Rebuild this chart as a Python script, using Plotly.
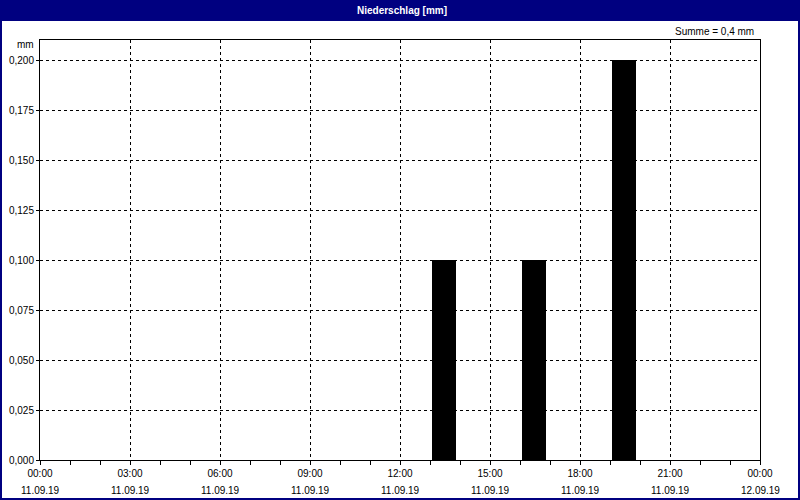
import plotly.graph_objects as go

# ---- data ----
bar_times = ["2019-09-11 13:28", "2019-09-11 16:28", "2019-09-11 19:28"]
bar_values = [0.1, 0.1, 0.2]
x_tick_vals = ["2019-09-11 00:00", "2019-09-11 03:00", "2019-09-11 06:00", "2019-09-11 09:00",
               "2019-09-11 12:00", "2019-09-11 15:00", "2019-09-11 18:00", "2019-09-11 21:00",
               "2019-09-12 00:00"]
x_tick_times = ["00:00", "03:00", "06:00", "09:00", "12:00", "15:00", "18:00", "21:00", "00:00"]
x_tick_dates = ["11.09.19", "11.09.19", "11.09.19", "11.09.19", "11.09.19", "11.09.19",
                "11.09.19", "11.09.19", "12.09.19"]
y_tick_vals = [0.0, 0.025, 0.05, 0.075, 0.1, 0.125, 0.15, 0.175, 0.2]
title_text = "Niederschlag [mm]"
sum_text = "Summe = 0,4 mm"
unit_text = "mm"

W, H = 800, 500
L, R, T, B = 40, 40, 40, 40
PW, PH = W - L - R, H - T - B


def px(xp):
    return (xp - L) / PW


def py(yp):
    return (H - B - yp) / PH


NAVY = "#000080"
FONT = "Liberation Sans"
FS = 10

fig = go.Figure()
fig.add_trace(go.Bar(
    x=bar_times, y=bar_values,
    width=0.8 * 3600 * 1000,
    marker=dict(color="#000000", line=dict(width=0)),
))

fig.update_layout(
    width=W, height=H,
    margin=dict(l=L, r=R, t=T, b=B, pad=0),
    paper_bgcolor="#ffffff", plot_bgcolor="#ffffff",
    separators=",.",
    showlegend=False,
    font=dict(family=FONT, size=FS, color="#000000"),
)

fig.update_xaxes(
    type="date", automargin=False,
    range=["2019-09-11 00:00", "2019-09-12 00:00"],
    tickvals=x_tick_vals, ticktext=x_tick_times,
    ticks="outside", ticklen=4, tickcolor="#000000", tickwidth=1,
    showgrid=True, gridcolor="#000000", gridwidth=1, griddash="3px,3px",
    showline=True, linecolor="#000000", linewidth=1, mirror=True,
    zeroline=False,
    minor=dict(dtick=3600000, ticks="outside", ticklen=4, tickcolor="#000000", showgrid=False),
    tickfont=dict(family=FONT, size=FS, color="#000000"),
)
fig.update_yaxes(
    automargin=False,
    range=[0, 0.21],
    tickvals=y_tick_vals, tickformat=".3f",
    ticks="outside", ticklen=3, tickcolor="#000000",
    showgrid=True, gridcolor="#000000", gridwidth=1, griddash="3px,3px",
    showline=True, linecolor="#000000", linewidth=1, mirror=True,
    zeroline=False,
    tickfont=dict(family=FONT, size=FS, color="#000000"),
)

shapes = [
    dict(type="rect", xref="paper", yref="paper",
         x0=px(0), x1=px(800), y0=py(20), y1=py(0),
         fillcolor=NAVY, line=dict(width=0), layer="above"),
    dict(type="rect", xref="paper", yref="paper",
         x0=px(1), x1=px(799), y0=py(499), y1=py(20),
         fillcolor="rgba(0,0,0,0)", line=dict(color=NAVY, width=2), layer="above"),
]
fig.update_layout(shapes=shapes)

annotations = [
    dict(text="<b>" + title_text + "</b>", xref="paper", yref="paper",
         x=px(402), y=py(10), showarrow=False, xanchor="center", yanchor="middle",
         font=dict(family=FONT, size=10, color="#ffffff")),
    dict(text=sum_text, xref="paper", yref="paper",
         x=px(756), y=py(31), showarrow=False, xanchor="right", yanchor="middle",
         font=dict(family=FONT, size=FS, color="#000000")),
    dict(text=unit_text, xref="paper", yref="paper",
         x=px(36), y=py(45), showarrow=False, xanchor="right", yanchor="middle",
         font=dict(family=FONT, size=FS, color="#000000")),
]
for xv, d in zip(x_tick_vals, x_tick_dates):
    annotations.append(dict(text=d, xref="x", yref="paper", x=xv, y=py(490),
                            showarrow=False, xanchor="center", yanchor="middle",
                            font=dict(family=FONT, size=FS, color="#000000")))
fig.update_layout(annotations=annotations)

fig.write_html(
    "out.html",
    config={"displayModeBar": False},
    post_script="document.body.style.margin='0';document.body.style.overflow='hidden';",
)
